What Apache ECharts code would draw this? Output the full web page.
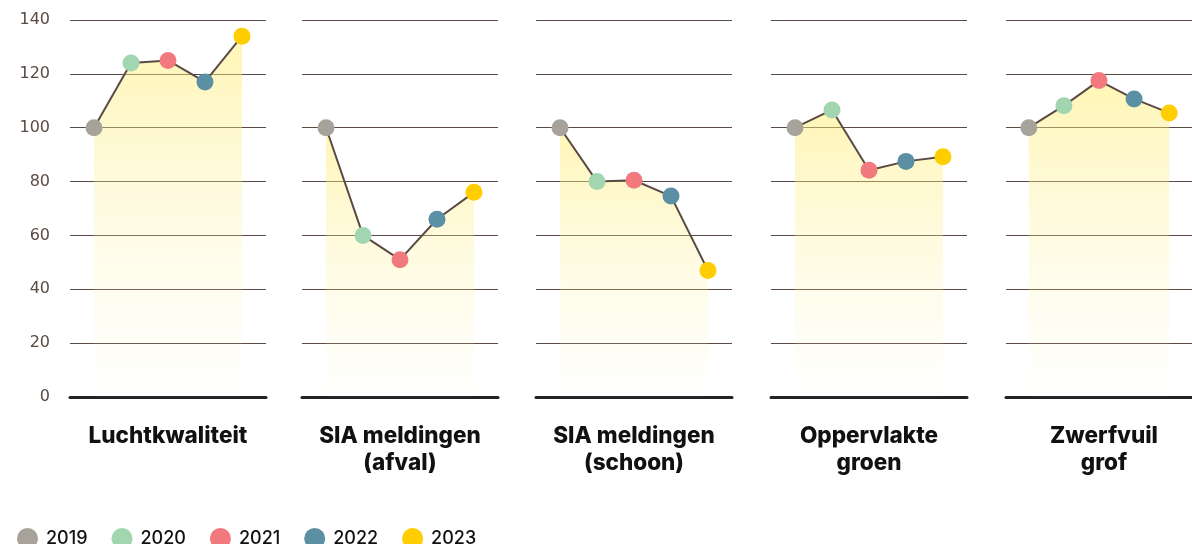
<!DOCTYPE html>
<html>
<head>
<meta charset="utf-8">
<script src="https://cdn.jsdelivr.net/npm/echarts@6/dist/echarts.min.js"></script>
<style>
  html, body { margin: 0; padding: 0; background: #fff; }
  #chart { width: 1192px; height: 544px; }
</style>
</head>
<body>
<div id="chart"></div>
<script>
// jaren en kleuren
const years = ["2019", "2020", "2021", "2022", "2023"];
const yearColors = ["#a7a39b", "#a2d6b0", "#f27a7f", "#5b8fa3", "#ffcd00"];

// indicatoren (index, 2019 = 100)
const panels = ["Luchtkwaliteit", "SIA meldingen\n(afval)", "SIA meldingen\n(schoon)", "Oppervlakte\ngroen", "Zwerfvuil\ngrof"];
const luchtkwaliteit = [100, 124, 125, 117, 134];
const siaAfval = [100, 60, 51, 66, 76];
const siaSchoon = [100, 80, 80.5, 74.6, 47];
const oppervlakteGroen = [100, 106.6, 84.2, 87.5, 89.2];
const zwerfvuilGrof = [100, 108.2, 117.5, 110.7, 105.5];
const values = [luchtkwaliteit, siaAfval, siaSchoon, oppervlakteGroen, zwerfvuilGrof];

const yTicks = [0, 20, 40, 60, 80, 100, 120, 140];

const myChart = echarts.init(document.getElementById("chart"));
const lineColor = "#5a4a44";
const gridLefts = [70, 302, 536, 771, 1006];
const gridWidth = 196;

const grids = [], xAxes = [], yAxes = [], series = [], titles = [];
panels.forEach((name, i) => {
  grids.push({ left: gridLefts[i], width: gridWidth, top: 20, height: 377 });
  xAxes.push({
    type: "value",
    gridIndex: i,
    min: -0.65,
    max: 4.65,
    axisLabel: { show: false },
    axisTick: { show: false },
    splitLine: { show: false },
    axisLine: { show: true, onZero: false, lineStyle: { color: "#222", width: 3 } },
  });
  yAxes.push({
    type: "value",
    gridIndex: i,
    min: yTicks[0],
    max: yTicks[yTicks.length - 1],
    interval: 20,
    axisLine: { show: false },
    axisTick: { show: false },
    axisLabel: {
      show: i === 0,
      color: lineColor,
      fontSize: 16,
      fontFamily: "DejaVu Sans",
      margin: 20,
    },
    splitLine: { lineStyle: { color: lineColor, width: 1 } },
  });
  series.push({
    type: "line",
    xAxisIndex: i,
    yAxisIndex: i,
    symbol: "circle",
    symbolSize: 17,
    z: 3,
    lineStyle: { color: lineColor, width: 2 },
    areaStyle: {
      color: new echarts.graphic.LinearGradient(0, 0, 0, 1, [
        { offset: 0, color: "rgba(255, 236, 110, 0.72)" },
        { offset: 1, color: "rgba(255, 245, 190, 0.05)" },
      ]),
    },
    data: values[i].map((v, j) => ({
      value: [j, v],
      itemStyle: { color: yearColors[j], borderWidth: 0, opacity: 1 },
    })),
  });
  titles.push({
    text: name,
    left: gridLefts[i] + gridWidth / 2 - 5,
    top: 418,
    textAlign: "center",
    textStyle: {
      fontFamily: "Inter",
      fontSize: 22.5,
      fontWeight: 800,
      color: "#111",
      lineHeight: 27,
    },
  });
});

// lege series voor de legenda
years.forEach((y, j) => {
  series.push({
    type: "scatter",
    name: y,
    xAxisIndex: 0,
    yAxisIndex: 0,
    data: [],
    itemStyle: { color: yearColors[j], opacity: 1 },
  });
});

myChart.setOption({
  animation: false,
  title: titles,
  grid: grids,
  xAxis: xAxes,
  yAxis: yAxes,
  legend: {
    data: years,
    left: 12,
    top: 523,
    padding: 5,
    icon: "circle",
    itemWidth: 21,
    itemHeight: 21,
    itemGap: 24,
    selectedMode: false,
    textStyle: { fontFamily: "Inter", fontSize: 18, fontWeight: 500, color: "#111", padding: [0, 0, 0, 3] },
  },
  series: series,
});
</script>
</body>
</html>
